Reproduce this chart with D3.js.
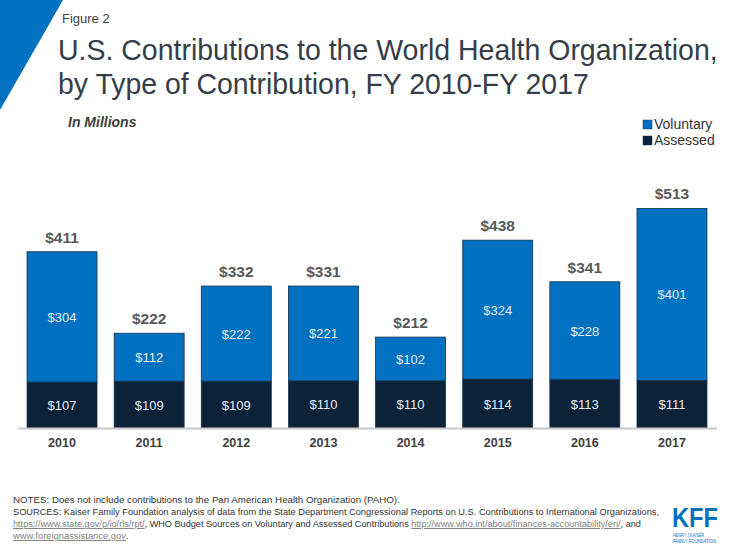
<!DOCTYPE html>
<html><head><meta charset="utf-8">
<script src="https://cdn.jsdelivr.net/npm/d3@7"></script>
<style>
body{margin:0;background:#fff;}
svg{display:block;font-family:"Liberation Sans",Arial,sans-serif;}
</style></head>
<body>
<svg id="c" width="735" height="551"></svg>
<script>
const years = ["2010","2011","2012","2013","2014","2015","2016","2017"];
const assessed = [107,109,109,110,110,114,113,111];
const voluntary = [304,112,222,221,102,324,228,401];
const totals = [411,222,332,331,212,438,341,513];
const seriesNames = ["Voluntary","Assessed"];
const colors = {Voluntary:"#0070C0", Assessed:"#0B2239"};

const svg = d3.select("#c");

// fit a text element horizontally to a target width by scaling x
function fitText(sel, x, y, target){
  const w = sel.node().getComputedTextLength();
  const sx = target / w;
  sel.attr("x",0).attr("y",0).attr("transform",`translate(${x},${y}) scale(${sx},1)`);
  return sel;
}

// decorative triangle
svg.append("path").attr("d","M0,0 L63,0 L0,110 Z").attr("fill","#0070C0");

svg.append("text").attr("x",62).attr("y",23).attr("font-size",13).attr("fill","#404040").text("Figure 2");
fitText(svg.append("text").attr("font-size",29).attr("fill","#363d47")
  .text("U.S. Contributions to the World Health Organization,"), 58, 60, 660);
fitText(svg.append("text").attr("font-size",29).attr("fill","#363d47")
  .text("by Type of Contribution, FY 2010-FY 2017"), 58, 94, 531);
svg.append("text").attr("x",68).attr("y",127).attr("font-size",14).attr("font-weight","bold")
  .attr("font-style","italic").attr("fill","#404040").text("In Millions");

// legend
seriesNames.forEach((s,i)=>{
  const g = svg.append("g").attr("transform",`translate(643,${120+i*16})`);
  g.append("rect").attr("width",9).attr("height",9).attr("fill",colors[s]).attr("stroke","#1f3550").attr("stroke-width",0.5);
  g.append("text").attr("x",11).attr("y",9).attr("font-size",14).attr("fill","#333").text(s);
});

const baseY = 428;
const x = d3.scaleBand().domain(years).range([18.5,715.5]).paddingInner(0.197).paddingOuter(0.098);
const y = d3.scaleLinear().domain([0,513]).range([baseY,208]);

const data = years.map((yr,i)=>({year:yr, Assessed:assessed[i], Voluntary:voluntary[i], total:totals[i]}));
const stack = d3.stack().keys(["Assessed","Voluntary"])(data);

const g = svg.append("g");
stack.forEach(layer=>{
  g.selectAll(null).data(layer).join("rect")
    .attr("x",d=>x(d.data.year)).attr("width",x.bandwidth())
    .attr("y",d=>y(d[1])).attr("height",d=>y(d[0])-y(d[1]))
    .attr("fill",colors[layer.key]).attr("stroke","#15324f").attr("stroke-width",0.8);
  g.selectAll(null).data(layer).join("text")
    .attr("x",d=>x(d.data.year)+x.bandwidth()/2)
    .attr("y",d=>(y(d[0])+y(d[1]))/2+5)
    .attr("text-anchor","middle").attr("font-size",13).attr("fill","#e6edf5")
    .text(d=>"$"+d.data[layer.key]);
});
g.selectAll(null).data(data).join("text")
  .attr("x",d=>x(d.year)+x.bandwidth()/2).attr("y",d=>y(d.total)-9)
  .attr("text-anchor","middle").attr("font-size",15.5).attr("font-weight","bold").attr("fill","#595959")
  .text(d=>"$"+d.total);

// axis
const ax = svg.append("g").attr("transform",`translate(0,${baseY})`).call(d3.axisBottom(x).tickSize(0).tickPadding(10));
ax.select(".domain").attr("stroke","#c8c8c8").attr("stroke-width",2).attr("d","M18,0.5H717");
ax.selectAll("text").attr("font-size",12.5).attr("font-weight","bold").attr("fill","#404040")
  .attr("font-family","Liberation Sans, Arial, sans-serif");

// notes
const notes = svg.append("g").attr("font-size",9.5).attr("fill","#333");
fitText(notes.append("text").text("NOTES:  Does not include contributions to the Pan American Health Organization (PAHO)."), 13, 503, 387);
fitText(notes.append("text").text("SOURCES: Kaiser Family Foundation analysis of data from the State Department Congressional Reports on U.S. Contributions to International Organizations,"), 13, 515, 647);
const l3 = notes.append("text");
l3.append("tspan").attr("fill","#7f7f7f").attr("text-decoration","underline").text("https://www.state.gov/p/io/rls/rpt/");
l3.append("tspan").text(", WHO Budget Sources on Voluntary and Assessed Contributions ");
l3.append("tspan").attr("fill","#7f7f7f").attr("text-decoration","underline").text("http://www.who.int/about/finances-accountability/en/");
l3.append("tspan").text(", and");
fitText(l3, 13, 527, 629);
const l4 = notes.append("text");
l4.append("tspan").attr("fill","#7f7f7f").attr("text-decoration","underline").text("www.foreignassistance.gov");
l4.append("tspan").text(".");
fitText(l4, 13, 539, 115);

// KFF logo
fitText(svg.append("text").attr("font-size",27).attr("font-weight","bold").attr("fill","#0070C0").text("KFF"), 672, 527, 46);
fitText(svg.append("text").attr("font-size",4.8).attr("fill","#0070C0").text("HENRY J KAISER"), 673, 537, 31);
fitText(svg.append("text").attr("font-size",4.8).attr("fill","#0070C0").text("FAMILY FOUNDATION"), 673, 543, 43);
</script>
</body></html>
